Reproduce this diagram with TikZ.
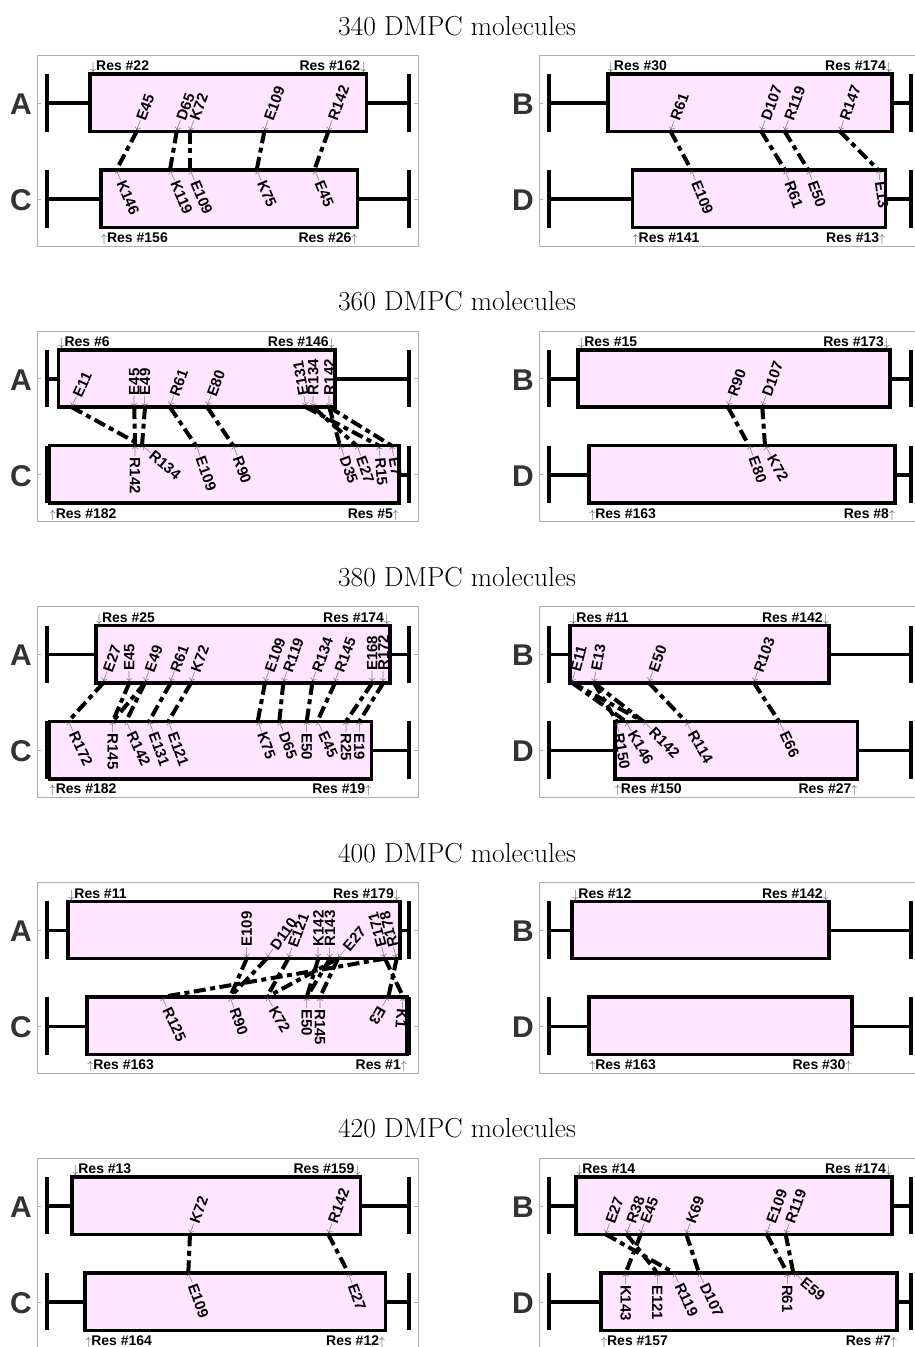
\documentclass[tikz,border=0pt]{standalone}
\usepackage{fontspec}
\newfontfamily\arialf{Liberation Sans}
\definecolor{boxpink}{RGB}{255,229,255}
\definecolor{framegray}{RGB}{175,175,175}
\definecolor{lettergray}{RGB}{51,51,51}
\pgfdeclarelayer{front}
\pgfsetlayers{main,front}
\tikzset{
 framebox/.style={draw=framegray, line width=0.9pt},
 tickmark/.style={draw=framegray, line width=0.9pt},
 protline/.style={line width=3.6pt},
 capbar/.style={line width=4pt},
 tmbox/.style={fill=boxpink, draw=black, line width=3.5pt},
 reslab/.style={anchor=west, inner sep=0pt, font=\arialf\bfseries\fontsize{15}{15}\selectfont},
 endlab/.style={inner sep=0pt, font=\arialf\bfseries\fontsize{14}{14}\selectfont},
 chainlab/.style={inner sep=0pt, text=lettergray, font=\arialf\bfseries\fontsize{30}{30}\selectfont},
 titlelab/.style={anchor=base, inner sep=0pt, font=\fontsize{27.5}{30}\selectfont},
 saltbridge/.style={line width=4pt, dash pattern=on 12pt off 4.5pt on 5pt off 4.5pt},
}
\newcommand\rarr{{\fontsize{12}{12}\selectfont\color{black!70}\raisebox{2.3pt}{$\leftarrow$}}}
\newcommand\darr{{\fontsize{12}{12}\selectfont\color{black!70}$\downarrow$}}
\newcommand\uarr{{\fontsize{12}{12}\selectfont\color{black!70}$\uparrow$}}
% prefix, X0, Y0, top letter, bottom letter, top-left res, top-right res, bottom-left res, bottom-right res
\newcommand\drawpanel[9]{%
 \pgfmathsetmacro\PxL{#2+10}%
 \pgfmathsetmacro\PxR{#2+372}%
 \pgfmathsetmacro\PxF{#2+381}%
 \pgfmathsetmacro\PyF{#3+190.5}%
 \pgfmathsetmacro\PyA{#3+47.7}%
 \pgfmathsetmacro\PyC{#3+143.7}%
 \pgfmathsetmacro\PaT{#3+18.7}%
 \pgfmathsetmacro\PaB{#3+76}%
 \pgfmathsetmacro\PcT{#3+114.5}%
 \pgfmathsetmacro\PcB{#3+172}%
 \pgfmathsetmacro\PtL{#2+9.5+#6*1.975}%
 \pgfmathsetmacro\PtR{#2+9.5+#7*1.975}%
 \pgfmathsetmacro\PbL{#2+372-#8*1.975}%
 \pgfmathsetmacro\PbR{#2+372-#9*1.975}%
 \draw[framebox] (#2,#3) rectangle (\PxF,\PyF);
 \draw[tickmark] (#2,\PyA) -- ++(4,0) (#2,\PyC) -- ++(4,0) (\PxF,\PyA) -- ++(-4,0) (\PxF,\PyC) -- ++(-4,0);
 \draw[protline] (\PxL,\PyA) -- (\PxR,\PyA) (\PxL,\PyC) -- (\PxR,\PyC);
 \draw[capbar] (\PxL,\PaT) -- (\PxL,\PaB) (\PxR,\PaT) -- (\PxR,\PaB) (\PxL,\PcT) -- (\PxL,\PcB) (\PxR,\PcT) -- (\PxR,\PcB);
 \draw[tmbox] (\PtL,\PaT) rectangle (\PtR,\PaB);
 \draw[tmbox] (\PbL,\PcT) rectangle (\PbR,\PcB);
 \node[endlab,anchor=base west] (#1tl) at (\PtL,\PaT-3.3) {\darr Res \##6};
 \node[endlab,anchor=base east] (#1tr) at (\PtR,\PaT-3.3) {Res \##7\darr};
 \node[endlab,anchor=base west] (#1bl) at (\PbL,\PcB+15) {\uarr Res \##8};
 \node[endlab,anchor=base east] (#1br) at (\PbR,\PcB+15) {Res \##9\uarr};
 \node[chainlab] (#1la) at (#2-16,\PyA+1) {#4};
 \node[chainlab] (#1lc) at (#2-16,\PyC+1) {#5};
}
\newcommand\tres[4]{\coordinate (#1) at (#2,\EA);
 \begin{pgfonlayer}{front}\node[reslab,rotate=#3] (#1l) at (#1) {\rarr#4};\end{pgfonlayer}}
\newcommand\bres[4]{\coordinate (#1) at (#2,\EC);
 \begin{pgfonlayer}{front}\node[reslab,rotate=#3] (#1l) at (#1) {\rarr#4};\end{pgfonlayer}}
\newcommand\sbr[2]{\draw[saltbridge] (#1) -- (#2);}
\begin{document}
\begin{tikzpicture}[x=1pt,y=-1pt]
\fill[white] (0,0) rectangle (914,1347);
\useasboundingbox (0,0) rectangle (914,1347);

% titles
\node[titlelab] (T0) at (457,35) {340 DMPC molecules};
\node[titlelab] (T1) at (457,310.7) {360 DMPC molecules};
\node[titlelab] (T2) at (457,586.4) {380 DMPC molecules};
\node[titlelab] (T3) at (457,862.1) {400 DMPC molecules};
\node[titlelab] (T4) at (457,1137.8) {420 DMPC molecules};

% ===== 340 =====
\def\EA{131.5}\def\EC{170}
\drawpanel{P0L}{37}{55.5}{A}{C}{22}{162}{156}{26}
\tres{A0-E45}{136.7}{70}{E45}
\tres{A0-D65}{176.7}{70}{D65}
\tres{A0-K72}{190}{70}{K72}
\tres{A0-E109}{264.3}{70}{E109}
\tres{A0-R142}{328.3}{70}{R142}
\bres{C0-K146}{116.3}{-67}{K146}
\bres{C0-K119}{170}{-67}{K119}
\bres{C0-E109}{190}{-67}{E109}
\bres{C0-K75}{256.7}{-67}{K75}
\bres{C0-E45}{314.3}{-67}{E45}
\sbr{A0-E45}{C0-K146}
\sbr{A0-D65}{C0-K119}
\sbr{A0-K72}{C0-E109}
\sbr{A0-E109}{C0-K75}
\sbr{A0-R142}{C0-E45}

\drawpanel{P0R}{539}{55.5}{B}{D}{30}{174}{141}{13}
\tres{B0-R61}{670.7}{70}{R61}
\tres{B0-D107}{761.3}{70}{D107}
\tres{B0-R119}{784.7}{70}{R119}
\tres{B0-R147}{840}{70}{R147}
\bres{D0-E109}{691.3}{-68}{E109}
\bres{D0-R61}{785}{-70}{R61}
\bres{D0-E50}{808.3}{-70}{E50}
\bres{D0-E13}{878.3}{-82}{E13}
\sbr{B0-R61}{D0-E109}
\sbr{B0-D107}{D0-R61}
\sbr{B0-R119}{D0-E50}
\sbr{B0-R147}{D0-E13}

% ===== 360 =====
\def\EA{407.2}\def\EC{445.7}
\drawpanel{P1L}{37}{331.2}{A}{C}{6}{146}{182}{5}
\tres{A1-E11}{71.7}{65}{E11}
\tres{A1-E45}{134.3}{90}{E45}
\tres{A1-E49}{145}{90}{E49}
\tres{A1-R61}{170}{70}{R61}
\tres{A1-E80}{207.3}{70}{E80}
\tres{A1-E131}{306}{100}{E131}
\tres{A1-R134}{313.3}{90}{R134}
\tres{A1-R142}{329.3}{90}{R142}
\bres{C1-R142}{135}{-90}{R142}
\bres{C1-R134}{142}{-40}{R134}
\bres{C1-E109}{196}{-70}{E109}
\bres{C1-R90}{233.3}{-70}{R90}
\bres{C1-D35}{340}{-70}{D35}
\bres{C1-E27}{356.7}{-70}{E27}
\bres{C1-R15}{379}{-85}{R15}
\bres{C1-E7}{391.7}{-80}{E7}
\sbr{A1-E11}{C1-R134}
\sbr{A1-E45}{C1-R142}
\sbr{A1-E49}{C1-R134}
\sbr{A1-R61}{C1-E109}
\sbr{A1-E80}{C1-R90}
\sbr{A1-E131}{C1-R15}
\sbr{A1-R134}{C1-E27}
\sbr{A1-R142}{C1-D35}
\sbr{A1-R142}{C1-E7}

\drawpanel{P1R}{539}{331.2}{B}{D}{15}{173}{163}{8}
\tres{B1-R90}{728}{70}{R90}
\tres{B1-D107}{762.3}{70}{D107}
\bres{D1-E80}{749}{-70}{E80}
\bres{D1-K72}{765}{-60}{K72}
\sbr{B1-R90}{D1-E80}
\sbr{B1-D107}{D1-K72}

% ===== 380 =====
\def\EA{682.9}\def\EC{721.4}
\drawpanel{P2L}{37}{606.9}{A}{C}{25}{174}{182}{19}
\tres{A2-E27}{103.3}{70}{E27}
\tres{A2-E45}{129.3}{90}{E45}
\tres{A2-E49}{145}{70}{E49}
\tres{A2-R61}{170.7}{70}{R61}
\tres{A2-K72}{191}{70}{K72}
\tres{A2-E109}{265}{70}{E109}
\tres{A2-R119}{283.3}{70}{R119}
\tres{A2-R134}{312.3}{70}{R134}
\tres{A2-R145}{335}{70}{R145}
\tres{A2-E168}{372.3}{90}{E168}
\tres{A2-R172}{383.3}{90}{R172}
\bres{C2-R172}{68.3}{-65}{R172}
\bres{C2-R145}{112.7}{-90}{R145}
\bres{C2-R142}{126}{-65}{R142}
\bres{C2-E131}{149}{-70}{E131}
\bres{C2-E121}{168.3}{-70}{E121}
\bres{C2-K75}{257.7}{-70}{K75}
\bres{C2-D65}{279.3}{-70}{D65}
\bres{C2-E50}{306.7}{-90}{E50}
\bres{C2-E45}{317.3}{-65}{E45}
\bres{C2-R25}{346}{-90}{R25}
\bres{C2-E19}{359.3}{-90}{E19}
\sbr{A2-E27}{C2-R172}
\sbr{A2-E45}{C2-R145}
\sbr{A2-E49}{C2-R145}
\sbr{A2-E49}{C2-R142}
\sbr{A2-R61}{C2-E131}
\sbr{A2-K72}{C2-E121}
\sbr{A2-E109}{C2-K75}
\sbr{A2-R119}{C2-D65}
\sbr{A2-R134}{C2-E50}
\sbr{A2-R145}{C2-E45}
\sbr{A2-E168}{C2-R25}
\sbr{A2-R172}{C2-E19}

\drawpanel{P2R}{539}{606.9}{B}{D}{11}{142}{150}{27}
\tres{B2-E11}{572.3}{75}{E11}
\tres{B2-E13}{594}{80}{E13}
\tres{B2-E50}{649}{70}{E50}
\tres{B2-R103}{754}{70}{R103}
\bres{D2-R150}{616.7}{-80}{R150}
\bres{D2-K146}{625.7}{-60}{K146}
\bres{D2-R142}{643.3}{-45}{R142}
\bres{D2-R114}{685.7}{-60}{R114}
\bres{D2-E66}{779}{-65}{E66}
\sbr{B2-E11}{D2-K146}
\sbr{B2-E11}{D2-R142}
\sbr{B2-E13}{D2-R150}
\sbr{B2-E13}{D2-R142}
\sbr{B2-E50}{D2-R114}
\sbr{B2-R103}{D2-E66}

% ===== 400 =====
\def\EA{958.6}\def\EC{997.1}
\drawpanel{P3L}{37}{882.6}{A}{C}{11}{179}{163}{1}
\tres{A3-E109}{246.7}{90}{E109}
\tres{A3-D110}{266.7}{55}{D110}
\tres{A3-E121}{288.3}{70}{E121}
\tres{A3-K142}{318.3}{90}{K142}
\tres{A3-R143}{330}{90}{R143}
\tres{A3-E27}{338}{50}{E27}
\tres{A3-E171}{385}{105}{E171}
\tres{A3-R178}{396.7}{105}{R178}
\bres{C3-R125}{161.7}{-65}{R125}
\bres{C3-R90}{230}{-70}{R90}
\bres{C3-K72}{266.7}{-60}{K72}
\bres{C3-E50}{306.7}{-90}{E50}
\bres{C3-R145}{320}{-90}{R145}
\bres{C3-E3}{388.3}{-120}{E3}
\bres{C3-K1}{403.3}{-95}{K1}
\sbr{A3-E109}{C3-R90}
\sbr{A3-D110}{C3-R90}
\sbr{A3-E121}{C3-K72}
\sbr{A3-E27}{C3-K72}
\sbr{A3-K142}{C3-E50}
\sbr{A3-R143}{C3-E50}
\sbr{A3-E27}{C3-R145}
\sbr{A3-E171}{C3-R125}
\sbr{A3-E171}{C3-K1}
\sbr{A3-R178}{C3-E3}

\drawpanel{P3R}{539}{882.6}{B}{D}{12}{142}{163}{30}

% ===== 420 =====
\def\EA{1234.3}\def\EC{1272.8}
\drawpanel{P4L}{37}{1158.3}{A}{C}{13}{159}{164}{12}
\tres{A4-K72}{190}{70}{K72}
\tres{A4-R142}{328.3}{70}{R142}
\bres{C4-E109}{188.3}{-70}{E109}
\bres{C4-E27}{348.3}{-70}{E27}
\sbr{A4-K72}{C4-E109}
\sbr{A4-R142}{C4-E27}

\drawpanel{P4R}{539}{1158.3}{B}{D}{14}{174}{157}{7}
\tres{B4-E27}{605.7}{70}{E27}
\tres{B4-R38}{626.7}{70}{R38}
\tres{B4-E45}{640.7}{70}{E45}
\tres{B4-K69}{686.3}{70}{K69}
\tres{B4-E109}{766.7}{70}{E109}
\tres{B4-R119}{785.7}{70}{R119}
\bres{D4-K143}{625.7}{-90}{K143}
\bres{D4-E121}{657.3}{-90}{E121}
\bres{D4-R119}{674}{-65}{R119}
\bres{D4-D107}{699}{-65}{D107}
\bres{D4-R61}{787.3}{-90}{R61}
\bres{D4-E59}{793.3}{-40}{E59}
\sbr{B4-E27}{D4-R119}
\sbr{B4-R38}{D4-E121}
\sbr{B4-E45}{D4-K143}
\sbr{B4-K69}{D4-D107}
\sbr{B4-E109}{D4-R61}
\sbr{B4-R119}{D4-E59}
\end{tikzpicture}
\end{document}
